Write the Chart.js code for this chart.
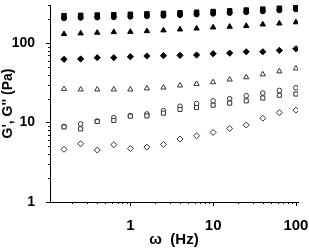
<!DOCTYPE html>
<html><head><meta charset="utf-8">
<script src="https://cdn.jsdelivr.net/npm/chart.js@4/dist/chart.umd.min.js"></script>
<style>html,body{margin:0;padding:0;background:#fff;}#wrap{width:309px;height:250px;position:relative;}</style>
</head><body><div id="wrap"><canvas id="c" width="309" height="250"></canvas></div>
<script>
// Frequency (Hz)
const frequencyHz = [0.158, 0.251, 0.398, 0.631, 1, 1.585, 2.512, 3.981, 6.31, 10, 15.85, 25.12, 39.81, 63.1, 100];
// Filled markers (G')
const gFilledSquare   = [220, 222, 224, 226, 229, 232, 235, 239, 243, 248, 253, 259, 266, 273, 282];
const gFilledCircle   = [205, 207, 209, 211, 214, 217, 220, 224, 228, 233, 238, 244, 250, 257, 265];
const gFilledTriangle = [129.5, 132, 134.5, 137, 138, 141, 144, 148, 152, 157, 160, 164, 171, 176, 182];
const gFilledDiamond  = [62.3, 62.9, 65.3, 65.3, 67.2, 68.5, 69.2, 69.8, 70.5, 73.2, 74.6, 77.5, 77.5, 80.5, 84.5];
// Open markers (G'')
const gOpenTriangle = [26.3, 26.0, 26.0, 26.0, 26.0, 26.8, 27.5, 29.2, 30.5, 32.1, 34.7, 37.0, 40.3, 43.9, 47.8];
const gOpenCircle   = [8.9, 9.6, 10.4, 11.5, 12.2, 12.8, 14.1, 16.0, 17.3, 18.7, 19.9, 21.7, 23.4, 25.3, 27.3];
const gOpenSquare   = [8.8, 8.3, 10.3, 10.6, 12.0, 12.1, 13.1, 14.6, 15.4, 16.5, 17.5, 18.7, 20.3, 22.0, 22.8];
const gOpenDiamond  = [4.6, 5.4, 4.5, 5.25, 4.7, 4.9, 5.3, 6.2, 6.8, 7.5, 8.4, 9.3, 11.3, 13.3, 14.3];
// Tick labels
const xTickLabels = [1, 10, 100];
const yTickLabels = [1, 10, 100];

const pts = arr => arr.map((v, i) => ({x: frequencyHz[i], y: v}));
const FONT = "'Liberation Sans', Arial, sans-serif";

function ds(data, style, filled, radius) {
  return {
    data: pts(data), showLine: false, pointStyle: style, pointRadius: radius,
    pointBackgroundColor: filled ? '#000' : '#fff',
    pointBorderColor: filled ? '#000' : '#333',
    pointBorderWidth: 1
  };
}

const tickMarks = {
  id: 'tickMarks',
  afterDraw(chart) {
    const ctx = chart.ctx, xs = chart.scales.x, ys = chart.scales.y;
    ctx.save(); ctx.strokeStyle = '#000'; ctx.lineWidth = 1;
    for (let e = -2; e <= 3; e++) {
      for (let m = 1; m <= 9; m++) {
        const v = m * Math.pow(10, e);
        const len = m === 1 ? 4 : 2;
        if (v >= xs.min && v <= xs.max) {
          const px = Math.round(xs.getPixelForValue(v)) + 0.5;
          ctx.beginPath(); ctx.moveTo(px, xs.top); ctx.lineTo(px, xs.top + len); ctx.stroke();
        }
        if (v >= ys.min && v <= ys.max) {
          const py = Math.round(ys.getPixelForValue(v)) + 0.5;
          ctx.beginPath(); ctx.moveTo(ys.right, py); ctx.lineTo(ys.right - len, py); ctx.stroke();
        }
      }
    }
    ctx.restore();
  }
};

function noPad(s) { s.paddingTop = 0; s.paddingBottom = 0; s.paddingLeft = 0; s.paddingRight = 0; }

new Chart(document.getElementById('c'), {
  type: 'scatter',
  data: {
    datasets: [
      ds(gOpenDiamond, 'rectRot', false, 3.0),
      ds(gOpenSquare, 'rect', false, 2.9),
      ds(gOpenCircle, 'circle', false, 2.3),
      ds(gOpenTriangle, 'triangle', false, 3.0),
      ds(gFilledDiamond, 'rectRot', true, 3.1),
      ds(gFilledTriangle, 'triangle', true, 3.1),
      ds(gFilledCircle, 'circle', true, 2.5),
      ds(gFilledSquare, 'rect', true, 3.2)
    ]
  },
  options: {
    responsive: false, animation: false, devicePixelRatio: 1,
    layout: {padding: {top: 1, right: 11, left: 0, bottom: 0}},
    plugins: {legend: {display: false}, tooltip: {enabled: false}},
    scales: {
      x: {
        type: 'logarithmic', min: 0.107, max: 106,
        grid: {display: false},
        border: {display: true, color: '#000', width: 1},
        afterBuildTicks: s => { s.ticks = xTickLabels.map(v => ({value: v, major: true})); },
        afterFit: s => { s.height = 48; noPad(s); },
        ticks: {autoSkip: false, maxRotation: 0, color: '#000', padding: 7,
          font: {family: FONT, size: 15, weight: 'bold'}, callback: v => String(v)},
        title: {display: true, text: 'ω  (Hz)', color: '#000', padding: {top: 0, bottom: 1},
          font: {family: FONT, size: 15, weight: 'bold'}}
      },
      y: {
        type: 'logarithmic', min: 1, max: 300,
        grid: {display: false},
        border: {display: true, color: '#000', width: 1},
        afterBuildTicks: s => { s.ticks = yTickLabels.map(v => ({value: v, major: true})); },
        afterFit: s => { s.width = 50; noPad(s); },
        ticks: {autoSkip: false, color: '#000', padding: 7,
          font: {family: FONT, size: 14, weight: 'bold'}, callback: v => String(v)},
        title: {display: true, text: "G', G'' (Pa)", color: '#000', padding: {top: 0, bottom: 0},
          font: {family: FONT, size: 14, weight: 'bold'}}
      }
    }
  },
  plugins: [tickMarks]
});
</script></body></html>
